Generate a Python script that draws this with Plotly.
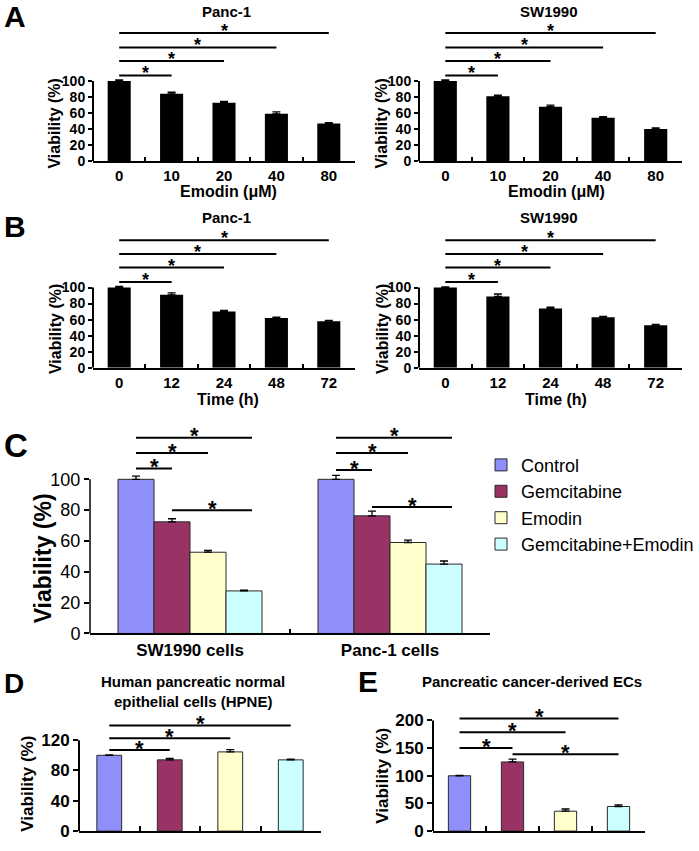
import plotly.graph_objects as go

W, H = 699, 851
FONT = "Liberation Sans, Arial, sans-serif"

# ---------------- data ----------------
emodin_doses = ["0", "10", "20", "40", "80"]
panc1_dose_viability = [100, 84, 73, 59, 47]
panc1_dose_err = [1.5, 2, 1.5, 2.5, 1]
sw1990_dose_viability = [100, 81, 68, 54, 40]
sw1990_dose_err = [1.5, 1.5, 2, 1.5, 1.5]

time_points = ["0", "12", "24", "48", "72"]
panc1_time_viability = [100, 91, 70, 62, 58]
panc1_time_err = [1.5, 2.5, 1.5, 1, 1]
sw1990_time_viability = [100, 89, 74, 63, 53]
sw1990_time_err = [1, 3, 1.5, 1, 1]

treatments = ["Control", "Gemcitabine", "Emodin", "Gemcitabine+Emodin"]
treatment_colors = ["#8F8FFB", "#993366", "#FFFFCC", "#CCFFFF"]
cell_lines = ["SW1990 cells", "Panc-1 cells"]
control_viability = [100, 100]
control_err = [2, 2.5]
gem_viability = [72.4, 76.3]
gem_err = [2, 3]
emodin_viability = [52.7, 59]
emodin_err = [1.2, 1.5]
combo_viability = [27.6, 45]
combo_err = [0.5, 2]

hpne_viability = [100, 94, 104.5, 94]
hpne_err = [0.5, 2, 3, 1]
ec_viability = [100, 125, 36, 44.5]
ec_err = [0.5, 5, 4, 3]

# significance brackets: (from index, to index, height)
sig_A = [(0, 1, 107), (0, 2, 125), (0, 3, 142), (0, 4, 160)]
sig_B = [(0, 1, 107), (0, 2, 125), (0, 3, 142), (0, 4, 159)]
sig_C_sw1990 = [(0, 1, 107), (0, 2, 117), (0, 3, 127), (1, 3, 80)]
sig_C_panc1 = [(0, 1, 106), (0, 2, 117), (0, 3, 127), (1, 3, 82)]
sig_D = [(0, 1, 107), (0, 2, 122.5), (0, 3, 139.5)]
sig_E = [(0, 1, 150), (0, 2, 178.5), (0, 3, 203.5), (1, 3, 139)]

# ---------------- layout helpers ----------------
def dom_x(a, b):
    return [a / W, b / W]

def dom_y(top, bottom):
    return [1 - bottom / H, 1 - top / H]

panels = {
    1: dict(x=(93, 355), top=20, bottom=163, ppu=0.81, ticks=list(range(0, 101, 20))),
    2: dict(x=(419, 682), top=20, bottom=163, ppu=0.81, ticks=list(range(0, 101, 20))),
    3: dict(x=(93, 355), top=229, bottom=372, ppu=0.81, ticks=list(range(0, 101, 20))),
    4: dict(x=(419, 682), top=229, bottom=372, ppu=0.81, ticks=list(range(0, 101, 20))),
    5: dict(x=(90, 490), top=428, bottom=641, ppu=1.56, ticks=list(range(0, 101, 20))),
    6: dict(x=(79, 321), top=722, bottom=841, ppu=0.767, ticks=[0, 40, 80, 120]),
    7: dict(x=(433, 645), top=712, bottom=841, ppu=0.56, ticks=[0, 50, 100, 150, 200]),
}

fig = go.Figure()
layout = dict(width=W, height=H, margin=dict(l=0, r=0, t=0, b=0),
              plot_bgcolor="white", paper_bgcolor="white",
              font=dict(family=FONT, color="black"), barmode="overlay")
shapes, annotations = [], []

def ax_name(i, kind):
    return kind + ("" if i == 1 else str(i))

for i, p in panels.items():
    small = i <= 4
    xa = dict(domain=dom_x(*p["x"]), anchor=ax_name(i, "y"), type="category",
              showline=True, linecolor="black", linewidth=2 if i != 5 else 1.5,
              ticks="inside", tickson="boundaries", ticklen=4 if small else 5,
              tickwidth=2 if i != 5 else 1.5, tickcolor="black",
              showgrid=False, zeroline=False, fixedrange=True)
    if small:
        xa["tickfont"] = dict(size=15, weight="bold")
    elif i == 5:
        xa["tickfont"] = dict(size=17, weight="bold")
    else:
        xa["showticklabels"] = False
    ymax = (p["bottom"] - p["top"]) / p["ppu"]
    ya = dict(domain=dom_y(p["top"], p["bottom"]), anchor=ax_name(i, "x"),
              range=[0, ymax], tickmode="array", tickvals=p["ticks"],
              ticks="outside", ticklen=4 if small else 5,
              tickwidth=2 if i != 5 else 1.5, tickcolor="black",
              showline=False, showgrid=False, zeroline=False, fixedrange=True)
    if small:
        ya["tickfont"] = dict(size=14, weight="bold")
    elif i == 5:
        ya["tickfont"] = dict(size=18)
    else:
        ya["tickfont"] = dict(size=17, weight="bold")
    layout["xaxis" + ("" if i == 1 else str(i))] = xa
    layout["yaxis" + ("" if i == 1 else str(i))] = ya
    shapes.append(dict(type="line", xref="paper", yref=ax_name(i, "y"),
                       x0=p["x"][0] / W, x1=p["x"][0] / W, y0=0, y1=p["ticks"][-1],
                       line=dict(color="black", width=2 if i != 5 else 1.5)))

def err(arr):
    return dict(type="data", array=arr, arrayminus=[0] * len(arr), symmetric=False,
                color="black", thickness=1.3, width=4)

def add_bracket(i, x0, x1, y, star_size, width=2):
    shapes.append(dict(type="line", xref=ax_name(i, "x"), yref=ax_name(i, "y"),
                       x0=x0, x1=x1, y0=y, y1=y, line=dict(color="black", width=width)))
    annotations.append(dict(xref=ax_name(i, "x"), yref=ax_name(i, "y"),
                            x=(x0 + x1) / 2, y=y, text="*", showarrow=False,
                            yanchor="middle", yshift=2,
                            font=dict(size=star_size, weight="bold")))

# ---- A & B (black bars) ----
for i, cats, vals, errs, sig in [
        (1, emodin_doses, panc1_dose_viability, panc1_dose_err, sig_A),
        (2, emodin_doses, sw1990_dose_viability, sw1990_dose_err, sig_A),
        (3, time_points, panc1_time_viability, panc1_time_err, sig_B),
        (4, time_points, sw1990_time_viability, sw1990_time_err, sig_B)]:
    fig.add_trace(go.Bar(x=cats, y=vals, width=0.44, marker=dict(color="black", line=dict(width=0)),
                         error_y=err(errs), xaxis=ax_name(i, "x"), yaxis=ax_name(i, "y"),
                         showlegend=False))
    for a, b, h in sig:
        add_bracket(i, a, b, h, 18)

# ---- C (grouped) ----
c_vals = [control_viability, gem_viability, emodin_viability, combo_viability]
c_errs = [control_err, gem_err, emodin_err, combo_err]
bw = 0.18
for k, (name, col, v, e) in enumerate(zip(treatments, treatment_colors, c_vals, c_errs)):
    fig.add_trace(go.Bar(x=cell_lines, y=v, name=name, width=bw, offset=-2 * bw + k * bw,
                         marker=dict(color=col, line=dict(color="#2a2a2a", width=1)),
                         error_y=err(e), xaxis="x5", yaxis="y5", showlegend=True))
for g, sig in enumerate([sig_C_sw1990, sig_C_panc1]):
    for a, b, h in sig:
        add_bracket(5, g + (-1.5 + a) * bw, g + (-1.5 + b) * bw + (0.04 if b == 3 else 0), h, 22)

# ---- D & E ----
for i, vals, errs, sig, w in [(6, hpne_viability, hpne_err, sig_D, 0.41),
                              (7, ec_viability, ec_err, sig_E, 0.42)]:
    fig.add_trace(go.Bar(x=treatments, y=vals, width=w,
                         marker=dict(color=treatment_colors, line=dict(color="#2a2a2a", width=1)),
                         error_y=err(errs), xaxis=ax_name(i, "x"), yaxis=ax_name(i, "y"),
                         showlegend=False))
    for a, b, h in sig:
        add_bracket(i, a, b, h, 22)

# ---------------- text ----------------
def text(x, y, s, size, bold=True, angle=0, xanchor="center"):
    annotations.append(dict(xref="paper", yref="paper", x=x / W, y=1 - y / H, text=s,
                            showarrow=False, textangle=angle, xanchor=xanchor, yanchor="middle",
                            font=dict(size=size, weight="bold" if bold else "normal")))

text(2, 17, "A", 30, xanchor="left")
text(2, 229, "B", 30, xanchor="left")
text(2, 451, "C", 33, xanchor="left")
text(2, 692, "D", 28, xanchor="left")
text(356, 690, "E", 30, xanchor="left")
text(226, 12, "Panc-1", 15)
text(549, 12, "SW1990", 15)
text(226, 220, "Panc-1", 15)
text(549, 220, "SW1990", 15)
text(193, 690, "Human pancreatic normal", 15)
text(193, 710, "epithelial cells (HPNE)", 15)
text(532, 690, "Pancreatic cancer-derived ECs", 15)
text(228, 194, "Emodin (μM)", 16)
text(556, 194, "Emodin (μM)", 16)
text(228, 404, "Time (h)", 16)
text(556, 404, "Time (h)", 16)
text(55, 125, "Viability (%)", 16, angle=-90)
text(382, 125, "Viability (%)", 16, angle=-90)
text(55, 333, "Viability (%)", 16, angle=-90)
text(382, 333, "Viability (%)", 16, angle=-90)
text(43, 565, "Viability (%)", 23, angle=-90)
text(28, 793, "Viability (%)", 17, angle=-90)
text(383, 785, "Viability (%)", 17, angle=-90)

layout["shapes"] = shapes
layout["annotations"] = annotations
layout["legend"] = dict(x=481 / W, y=1 - 452 / H, xanchor="left", yanchor="top",
                        font=dict(size=18), itemwidth=30, tracegroupgap=0,
                        bgcolor="rgba(0,0,0,0)")
fig.update_layout(**layout)
fig.write_html("out.html", config={"displayModeBar": False},
               post_script="document.body.style.margin='0';document.body.style.padding='0';"
                           "document.documentElement.style.overflow='hidden';")
